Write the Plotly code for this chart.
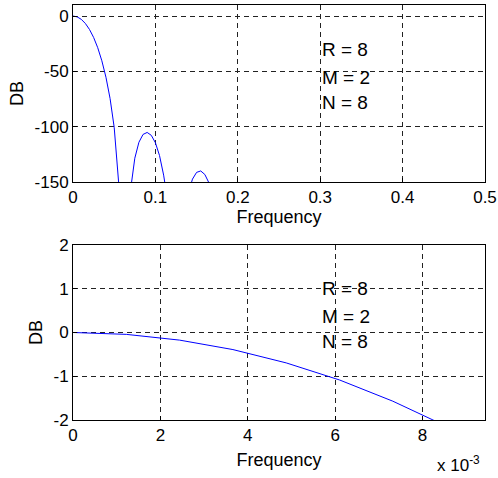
import plotly.graph_objects as go

# ---- data ----
# Top panel: magnitude response (dB) vs normalised frequency, lobes separated by None
freq_top = [0.0, 0.005, 0.01, 0.015, 0.02, 0.025, 0.03, 0.035, 0.04, 0.045, 0.05, 0.055, 0.056, 0.0575,
            None,
            0.07, 0.072, 0.075, 0.08, 0.085, 0.09, 0.095, 0.1, 0.105, 0.11, 0.112,
            None,
            0.14, 0.143, 0.145, 0.15, 0.155, 0.16, 0.165, 0.168]
db_top = [0.0, -0.73, -2.94, -6.7, -12.1, -19.3, -28.6, -40.4, -55.3, -74.6, -100.6, -139.8, -150.3, -170.0,
          None,
          -156.3, -142.8, -128.5, -114.1, -107.0, -105.2, -107.8, -114.5, -126.1, -143.8, -153.3,
          None,
          -159.7, -151.4, -147.4, -141.3, -140.0, -143.2, -150.8, -157.9]

# Bottom panel: passband zoom
freq_bot = [0.0, 0.00122, 0.00244, 0.00366, 0.00488, 0.0061, 0.00732, 0.00854]
db_bot = [0.0, -0.043, -0.174, -0.39, -0.695, -1.085, -1.57, -2.14]

top_xticks = [0, 0.1, 0.2, 0.3, 0.4, 0.5]
top_xticklabels = ["0", "0.1", "0.2", "0.3", "0.4", "0.5"]
top_yticks = [0, -50, -100, -150]
top_yticklabels = ["0", "-50", "-100", "-150"]
bot_xticks = [0, 0.002, 0.004, 0.006, 0.008]
bot_xticklabels = ["0", "2", "4", "6", "8"]
bot_yticks = [-2, -1, 0, 1, 2]
bot_yticklabels = ["-2", "-1", "0", "1", "2"]
param_lines = ["R = 8", "M = 2", "N = 8"]

FONT = "Liberation Sans, Arial, sans-serif"
BLUE = "#0000ff"
TICK = 17
LAB = 18
ANN = 19

fig = go.Figure()
fig.add_trace(go.Scatter(x=freq_top, y=db_top, mode="lines", line=dict(color=BLUE, width=1),
                         connectgaps=False, xaxis="x", yaxis="y", showlegend=False, hoverinfo="skip"))
fig.add_trace(go.Scatter(x=freq_bot, y=db_bot, mode="lines", line=dict(color=BLUE, width=1),
                         xaxis="x2", yaxis="y2", showlegend=False, hoverinfo="skip"))

axis_common = dict(
    showline=True, linecolor="black", linewidth=1, mirror=True,
    ticks="inside", ticklen=4, tickcolor="black", automargin=False,
    showgrid=True, gridcolor="#222222", gridwidth=1, griddash="5px,4px",
    zeroline=False, tickfont=dict(family=FONT, size=TICK, color="black"),
)

fig.update_layout(
    width=498, height=478,
    margin=dict(l=73, r=13, t=5, b=58),
    paper_bgcolor="white", plot_bgcolor="white",
    font=dict(family=FONT, size=TICK, color="black"),
    xaxis=dict(axis_common, domain=[0, 1], anchor="y", range=[0, 0.5],
               tickvals=top_xticks, ticktext=top_xticklabels,
               title=dict(text="Frequency", standoff=4, font=dict(family=FONT, size=LAB))),
    yaxis=dict(axis_common, domain=[0.5735, 1.0], anchor="x", range=[-150, 10],
               tickvals=top_yticks, ticktext=top_yticklabels,
               title=dict(text="DB", standoff=6, font=dict(family=FONT, size=LAB))),
    xaxis2=dict(axis_common, domain=[0, 1], anchor="y2", range=[0, 0.00943],
                tickvals=bot_xticks, ticktext=bot_xticklabels,
                title=dict(text="Frequency", standoff=8, font=dict(family=FONT, size=LAB))),
    yaxis2=dict(axis_common, domain=[0, 0.4217], anchor="x2", range=[-2, 2],
                tickvals=bot_yticks, ticktext=bot_yticklabels,
                title=dict(text="DB", standoff=6, font=dict(family=FONT, size=LAB))),
)

ys = [0.75, 0.592, 0.448]
for xr, yr in [("x domain", "y domain"), ("x2 domain", "y2 domain")]:
    for txt, yy in zip(param_lines, ys):
        fig.add_annotation(text=txt, xref=xr, yref=yr, x=0.6, y=yy, xanchor="left", yanchor="middle",
                           showarrow=False, font=dict(family=FONT, size=ANN, color="black"))

fig.add_annotation(text="x 10<sup>-3</sup>", xref="paper", yref="paper",
                   x=(435 - 73) / 412, y=(420 - 464) / 415,
                   xanchor="left", yanchor="middle", showarrow=False,
                   font=dict(family=FONT, size=TICK, color="black"))

fig.write_html("out.html",
               config={"displayModeBar": False, "staticPlot": True},
               post_script="document.body.style.margin='0';document.body.style.overflow='hidden';")
